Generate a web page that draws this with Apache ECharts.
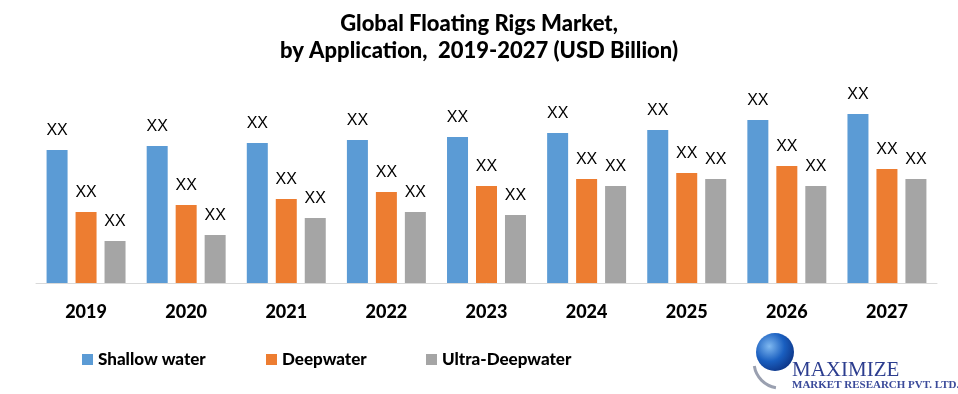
<!DOCTYPE html>
<html>
<head>
<meta charset="utf-8">
<script src="https://cdn.jsdelivr.net/npm/echarts@6/dist/echarts.min.js"></script>
<style>html,body{margin:0;padding:0;background:#fff}#c{width:958px;height:394px}</style>
</head>
<body>
<div id="c"></div>
<script>
const years = ['2019','2020','2021','2022','2023','2024','2025','2026','2027'];
const shallowWater = [133, 137, 140, 143, 146, 150, 153, 163, 169];
const deepwater = [71, 78, 84, 91, 97, 104, 110, 117, 114];
const ultraDeepwater = [42, 48, 65, 71, 68, 97, 104, 97, 104];
const seriesNames = ['Shallow water', 'Deepwater', 'Ultra-Deepwater'];
const barLabel = 'XX';

const colors = ['#5B9BD5', '#ED7D31', '#A5A5A5'];
const chart = echarts.init(document.getElementById('c'), null, {renderer: 'canvas'});

const lbl = {
  show: true, position: 'top', distance: 11,
  formatter: () => barLabel,
  color: '#000', fontFamily: 'Liberation Sans', fontSize: 16
};
function mk(name, data, i) {
  return {
    name, type: 'bar', data, barWidth: 21, barGap: '38%',
    itemStyle: {color: colors[i]}, label: lbl, emphasis: {disabled: true}
  };
}
const legFont = {fontFamily: 'Lato', fontWeight: 900, fontSize: 17, color: '#000'};
function leg(i, x) {
  return {data: [seriesNames[i]], left: x, top: 351, padding: 0, itemWidth: 11, itemHeight: 11, itemGap: 0,
    textStyle: legFont, icon: 'rect', selectedMode: false};
}
chart.setOption({
  animation: false,
  title: {
    text: 'Global Floating Rigs Market,\nby Application,  2019-2027 (USD Billion)',
    left: 'center', top: 10, padding: 0,
    textStyle: {fontFamily: 'Lato', fontWeight: 900, fontSize: 22, color: '#000', lineHeight: 27}
  },
  legend: [leg(0, 82), leg(1, 266), leg(2, 426)],
  grid: {left: 36, right: 21, top: 83, bottom: 111},
  xAxis: {
    type: 'category', data: years,
    axisLine: {lineStyle: {color: '#d9d9d9', width: 1}},
    axisTick: {show: false},
    axisLabel: {margin: 20, fontFamily: 'Lato', fontWeight: 900, fontSize: 18, color: '#000'}
  },
  yAxis: {type: 'value', min: 0, max: 200, show: false, splitLine: {show: false}},
  series: [mk(seriesNames[0], shallowWater, 0), mk(seriesNames[1], deepwater, 1), mk(seriesNames[2], ultraDeepwater, 2)],
  graphic: [
    {type: 'circle', shape: {cx: 775, cy: 352, r: 19}, style: {fill: new echarts.graphic.RadialGradient(0.35, 0.35, 0.8, [{offset: 0, color: '#7fb8f0'}, {offset: 0.5, color: '#1a5fc0'}, {offset: 1, color: '#0a2a78'}])}},
    {type: 'arc', shape: {cx: 780, cy: 362, r: 26, startAngle: Math.PI * 0.55, endAngle: Math.PI * 0.95}, style: {stroke: '#9aa0b0', lineWidth: 3, fill: null}},
    {type: 'text', left: 792, top: 360, style: {text: 'MAXIMIZE', font: '21px "Liberation Serif"', fill: '#2c3d8f'}},
    {type: 'text', left: 792, top: 380, style: {text: 'MARKET RESEARCH PVT. LTD.', font: 'bold 11px "Liberation Serif"', fill: '#3a4a9a'}}
  ]
});
</script>
</body>
</html>
